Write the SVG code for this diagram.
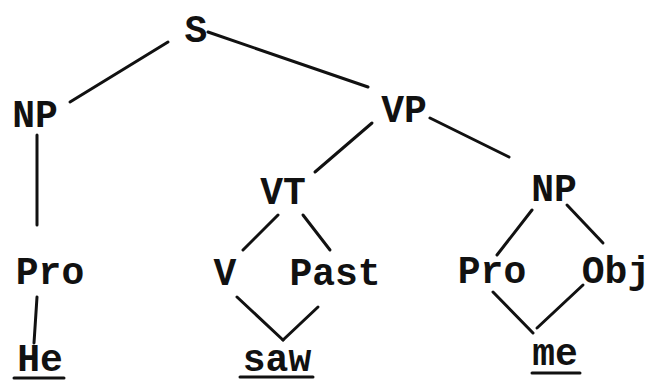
<svg xmlns="http://www.w3.org/2000/svg" width="654" height="381" viewBox="0 0 654 381">
<style>
.t{font-family:"Liberation Mono","Courier New",monospace;font-size:38px;font-weight:bold;fill:#111;text-anchor:middle}
.e{stroke:#111;stroke-width:3;stroke-linecap:round;fill:none}
</style>
<rect width="654" height="381" fill="#fff"/>
<g id="connectors">
<line class="e" x1="168" y1="42" x2="70" y2="102"/>
<line class="e" x1="208" y1="32" x2="368" y2="87"/>
<line class="e" x1="372" y1="123" x2="315" y2="172"/>
<line class="e" x1="430" y1="118" x2="509" y2="157"/>
<line class="e" x1="37" y1="135" x2="37" y2="225"/>
<line class="e" x1="37" y1="297" x2="34" y2="343"/>
<line class="e" x1="278" y1="215" x2="243" y2="250"/>
<line class="e" x1="303" y1="215" x2="330" y2="250"/>
<line class="e" x1="237" y1="297" x2="283" y2="340"/>
<line class="e" x1="318" y1="307" x2="283" y2="340"/>
<line class="e" x1="532" y1="210" x2="497" y2="255"/>
<line class="e" x1="567" y1="205" x2="603" y2="243"/>
<line class="e" x1="493" y1="292" x2="533" y2="333"/>
<line class="e" x1="583" y1="285" x2="537" y2="328"/>
</g>
<g id="S"><text class="t" x="196" y="42">S</text></g>
<g id="NP1"><text class="t" x="35" y="127">NP</text></g>
<g id="VP"><text class="t" x="404" y="122">VP</text></g>
<g id="VT"><text class="t" x="283" y="204">VT</text></g>
<g id="NP2"><text class="t" x="554" y="201">NP</text></g>
<g id="Pro1"><text class="t" x="50" y="284">Pro</text></g>
<g id="V"><text class="t" x="225" y="285">V</text></g>
<g id="Past"><text class="t" x="335" y="285">Past</text></g>
<g id="Pro2"><text class="t" x="492" y="283">Pro</text></g>
<g id="Obj"><text class="t" x="616" y="283">Obj</text></g>
<g id="He"><text class="t" x="40" y="371">He</text><line class="e" x1="14" y1="378" x2="64" y2="378"/></g>
<g id="saw"><text class="t" x="277" y="371">saw</text><line class="e" x1="240" y1="377" x2="313" y2="377"/></g>
<g id="me"><text class="t" x="555" y="365">me</text><line class="e" x1="532" y1="373" x2="580" y2="373"/></g>
</svg>
